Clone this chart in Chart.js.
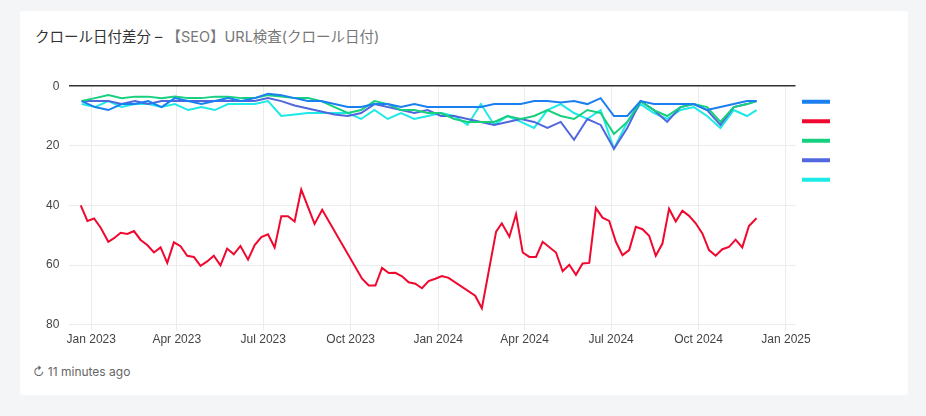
<!DOCTYPE html>
<html><head><meta charset="utf-8">
<script src="https://cdn.jsdelivr.net/npm/chart.js@4"></script>
<style>
body{margin:0;background:#f3f5f7;font-family:Inter,"Noto Sans CJK JP",sans-serif;}
#card{position:absolute;left:20px;top:11px;width:888px;height:384px;background:#fff;border-radius:3px;}
#title{position:absolute;left:15px;top:14px;font-size:14.5px;color:#333;}
#title span{color:#777;}
#wrap{position:absolute;left:0;top:58px;width:880px;height:280px;}
#foot{position:absolute;left:13px;top:353px;font-size:12px;color:#666;}
</style></head><body>
<div id="card">
<div id="title">クロール日付差分 – <span>【SEO】URL検査(クロール日付)</span></div>
<div id="wrap"><canvas id="c"></canvas></div>
<div id="foot">↻ 11 minutes ago</div>
</div>
<script>
// x values: days since 2023-01-01
const tickDays=[0,90,181,273,365,456,547,639,731];
const tickLabels=["Jan 2023","Apr 2023","Jul 2023","Oct 2023","Jan 2024","Apr 2024","Jul 2024","Oct 2024","Jan 2025"];
const redDays=[-11,-4,3,10,18,24,31,38,45,52,59,66,73,80,87,94,101,108,115,122,129,136,143,150,157,165,172,179,186,193,200,207,214,221,235,243,285,292,299,306,313,320,327,334,341,348,355,362,369,376,404,411,426,432,440,447,454,461,468,475,489,496,503,510,517,524,531,538,545,552,559,566,573,580,587,594,601,608,615,622,629,636,643,650,657,664,671,678,685,692,700];
const redVals=[40.0,45.2,44.4,47.5,52.2,51.0,49.2,49.6,48.6,51.6,53.3,55.8,54.1,59.3,52.4,53.7,56.9,57.3,60.3,58.8,56.9,60.1,54.5,56.4,53.6,58.2,53.3,50.6,49.7,54.1,43.6,43.6,45.4,34.7,46.2,41.5,64.6,66.9,66.9,61.0,62.7,62.6,63.8,65.8,66.3,67.8,65.4,64.6,63.7,64.3,70.3,74.5,48.8,46.0,50.5,42.9,55.8,57.3,57.3,52.2,55.8,62.1,59.9,63.3,59.5,59.3,40.9,44.1,45.2,52.2,56.7,55.0,47.2,48.0,50.2,56.9,52.8,41.1,45.4,41.8,43.5,46.0,49.4,55.0,56.9,54.7,53.9,51.5,54.1,46.9,44.3];
const otherDays=[-10,4,18,32,46,60,74,88,102,116,130,144,158,172,186,200,214,228,242,256,270,284,298,312,326,340,354,368,382,396,410,424,438,452,466,480,494,508,522,536,550,564,578,592,606,620,634,648,662,676,690,700];
const blueVals=[5,7,8,6,6,5,7,4,5,6,5,4,5,4,2.5,3,4,5,5,6,7,7,6,6,7,6,7,7,7,7,7,6,6,6,5,5,5.5,5,6,4,10,10,5,6,6,6,6,8,7,6,5,5];
const greenVals=[5,4,3,4,3.5,3.5,4,3.5,4,4,3.5,3.5,4,4,3,3.5,4,4,5,7,9,8,5,6,8,8,9,9,11,12,12,12,10,11,10,8,10,11,8,9,16,12,5,8,10,7,6,7,12,7,6,5];
const purpleVals=[5,5,5,6,5,6,5,5,5,5,5,5,5,5,4,5,6.5,7.5,8.5,9.5,10,9,6,7,8,9,8,10,10,11,12,13,12,11,12,14,12,18,11,13,21,14,5,8,12,7,6,8,13,7,6,5];
const cyanVals=[6,7,5,7,6,6,7,6,8,7,8,6,6,6,5,10,9.5,9,9,9,9,11,8,11,9,11,10,9,10,13,6,13,10,12,14,8,6,9,11,8,21,12,6,9,11,8,7,10,14,8,10,8];
const names=["","","","",""];
const colors=["#1a7ff0","#f0082f","#16d07e","#5067dd","#1de9e6"];
function pts(d,v){return d.map((x,i)=>({x:x,y:v[i]})).filter(p=>p.y!==undefined);}
const series=[[otherDays,blueVals],[redDays,redVals],[otherDays,greenVals],[otherDays,purpleVals],[otherDays,cyanVals]];
new Chart(document.getElementById('c'),{type:'line',
data:{datasets:series.map((s,i)=>({label:names[i],data:pts(s[0],s[1]),borderColor:colors[i],backgroundColor:colors[i],borderWidth:2,pointRadius:0,tension:0}))},
options:{responsive:true,maintainAspectRatio:false,animation:false,
layout:{padding:{left:16,right:55,top:8,bottom:0}},
plugins:{legend:{position:'right',align:'start',title:{display:true,text:' ',font:{size:1},padding:5},labels:{boxWidth:26,boxHeight:2,padding:7.5,font:{size:12}}},tooltip:{enabled:false}},
scales:{
x:{type:'linear',min:-23,max:741,afterBuildTicks:ax=>{ax.ticks=tickDays.map(v=>({value:v}));},
ticks:{callback:(v)=>tickLabels[tickDays.indexOf(v)]||'',color:'#444',font:{size:12},maxRotation:0,autoSkip:false,padding:2},
grid:{color:'#ececec',drawTicks:true,tickLength:6},border:{display:false}},
y:{reverse:true,min:0,max:80,ticks:{stepSize:20,color:'#444',font:{size:12},padding:10},
grid:{color:c=>c.tick&&c.tick.value===0?'#333':'#ececec',lineWidth:c=>c.tick&&c.tick.value===0?1.5:1,drawTicks:false},border:{display:false}}}}});
</script></body></html>
